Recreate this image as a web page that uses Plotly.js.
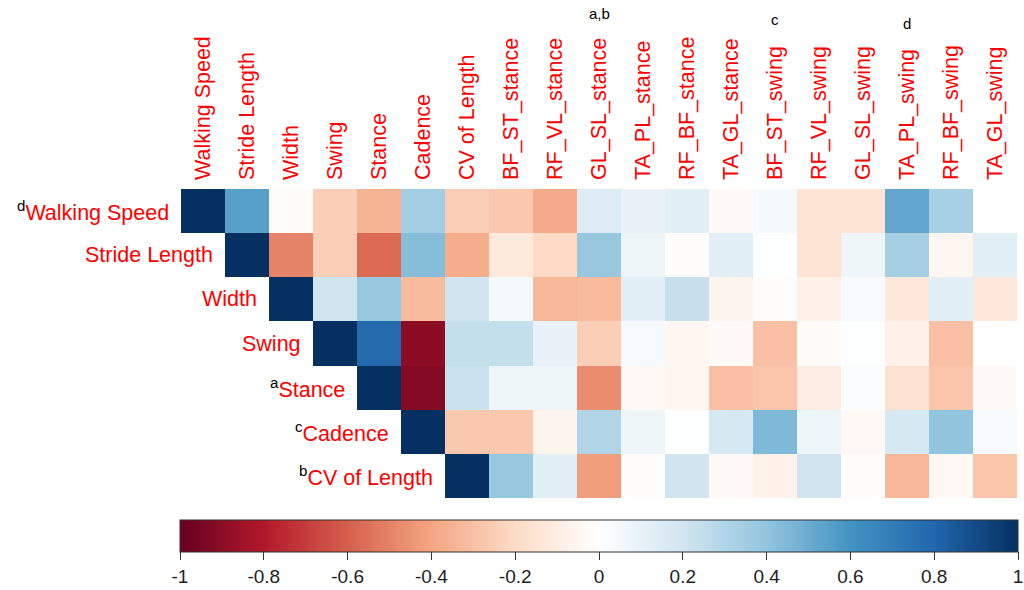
<!DOCTYPE html>
<html>
<head>
<meta charset="utf-8">
<script src="https://cdn.plot.ly/plotly-3.0.1.min.js"></script>
<style>html,body{margin:0;padding:0;background:#fff;}#chart{width:1024px;height:590px;}</style>
</head>
<body>
<div id="chart"></div>
<script>
// Column variables
var colLabels = ['Walking Speed','Stride Length','Width','Swing','Stance','Cadence','CV of Length',
  'BF_ST_stance','RF_VL_stance','GL_SL_stance','TA_PL_stance','RF_BF_stance','TA_GL_stance',
  'BF_ST_swing','RF_VL_swing','GL_SL_swing','TA_PL_swing','RF_BF_swing','TA_GL_swing'];
// Row variables
var rowLabels = ['Walking Speed','Stride Length','Width','Swing','Stance','Cadence','CV of Length'];
var rowNotes = ['d','','','','a','c','b'];
var colNotes = ['','','','','','','','','','a,b','','','','c','','','d','',''];

// Correlations (each row starts at its own diagonal column)
var rWalkingSpeed = [1.00, 0.55, -0.02, -0.25, -0.35, 0.35, -0.25, -0.27, -0.38, 0.15, 0.10, 0.12, -0.03, 0.05, -0.15, -0.15, 0.52, 0.33, 0.00];
var rStrideLength = [1.00, -0.50, -0.25, -0.57, 0.43, -0.37, -0.12, -0.20, 0.38, 0.08, -0.01, 0.12, 0.01, -0.15, 0.08, 0.34, -0.05, 0.12];
var rWidth = [1.00, 0.20, 0.38, -0.32, 0.20, 0.05, -0.33, -0.32, 0.12, 0.23, -0.06, -0.01, -0.08, 0.03, -0.13, 0.12, -0.13];
var rSwing = [1.00, 0.78, -0.90, 0.24, 0.24, 0.10, -0.25, 0.04, -0.05, -0.03, -0.30, -0.02, 0.01, -0.08, -0.30, 0.00];
var rStance = [1.00, -0.92, 0.22, 0.08, 0.08, -0.47, -0.04, -0.05, -0.30, -0.28, -0.10, 0.02, -0.16, -0.28, -0.03];
var rCadence = [1.00, -0.27, -0.27, -0.06, 0.30, 0.08, 0.01, 0.18, 0.45, 0.08, -0.04, 0.18, 0.40, 0.03];
var rCVLength = [1.00, 0.38, 0.13, -0.42, -0.01, 0.20, -0.03, -0.07, 0.20, -0.01, -0.33, -0.04, -0.28];

var rows = [rWalkingSpeed, rStrideLength, rWidth, rSwing, rStance, rCadence, rCVLength];

var colorStops = ['#67001F','#B2182B','#D6604D','#F4A582','#FDDBC7','#FFFFFF','#D1E5F0','#92C5DE','#4393C3','#2166AC','#053061'];
var cbTicks = [-1,-0.8,-0.6,-0.4,-0.2,0,0.2,0.4,0.6,0.8,1];
var cbTickText = ['-1','-0.8','-0.6','-0.4','-0.2','0','0.2','0.4','0.6','0.8','1'];

// Build full matrix with blanks left of diagonal
var z = rows.map(function(r, i){
  var out = [];
  for (var j = 0; j < colLabels.length; j++) out.push(j < i ? null : r[j - i]);
  return out;
});
var colorscale = colorStops.map(function(c, k){ return [k/(colorStops.length-1), c]; });

var trace = {
  type: 'heatmap',
  z: z,
  x: colLabels,
  y: rowLabels,
  zmin: -1, zmax: 1,
  colorscale: colorscale,
  hoverongaps: false,
  colorbar: {
    orientation: 'h',
    x: 0.5, xanchor: 'center',
    y: -0.0712, yanchor: 'top',
    lenmode: 'pixels', len: 838,
    thickness: 32,
    xpad: 0, ypad: 0,
    outlinecolor: '#333', outlinewidth: 1,
    ticks: 'outside', ticklen: 8, tickcolor: '#333',
    tickvals: cbTicks, ticktext: cbTickText,
    ticklabeloverflow: 'allow',
    tickfont: {family: '"Liberation Sans Narrow", "Arial Narrow", "Liberation Sans", Arial, sans-serif', size: 19, color: '#222'}
  }
};

var annotations = [];
var labelFont = {family: '"Liberation Sans", Arial, sans-serif', size: 21.5, color: '#FF0000'};
rowLabels.forEach(function(lbl, i){
  var txt = (rowNotes[i] ? '<sup><span style="color:#000">' + rowNotes[i] + '</span></sup>' : '') + lbl;
  annotations.push({
    x: i - 0.5, y: i, xref: 'x', yref: 'y',
    xanchor: 'right', yanchor: 'middle', xshift: -10,
    text: txt, showarrow: false, font: labelFont
  });
});
var noteY = {'a,b': 1.568, 'c': 1.548, 'd': 1.534};
colNotes.forEach(function(n, j){
  if (!n) return;
  annotations.push({
    x: j, y: noteY[n], xref: 'x', yref: 'paper',
    xanchor: 'center', yanchor: 'middle',
    text: n, showarrow: false,
    font: {family: '"Liberation Sans", Arial, sans-serif', size: 15, color: '#000'}
  });
});

var layout = {
  width: 1024, height: 590,
  margin: {l: 181, r: 7, t: 189, b: 92, autoexpand: false},
  paper_bgcolor: '#fff', plot_bgcolor: '#fff',
  xaxis: {
    side: 'top', tickangle: -90, ticks: '', showgrid: false, zeroline: false, showline: false,
    range: [-0.5, colLabels.length - 0.5], autorange: false,
    tickfont: labelFont, ticklabelstandoff: 8, fixedrange: true, automargin: false
  },
  yaxis: {
    range: [rowLabels.length - 0.5, -0.5], autorange: false,
    showticklabels: false, ticks: '', showgrid: false, zeroline: false, showline: false,
    fixedrange: true, automargin: false
  },
  annotations: annotations,
  showlegend: false
};

Plotly.newPlot('chart', [trace], layout, {displayModeBar: false, staticPlot: true});
</script>
</body>
</html>
